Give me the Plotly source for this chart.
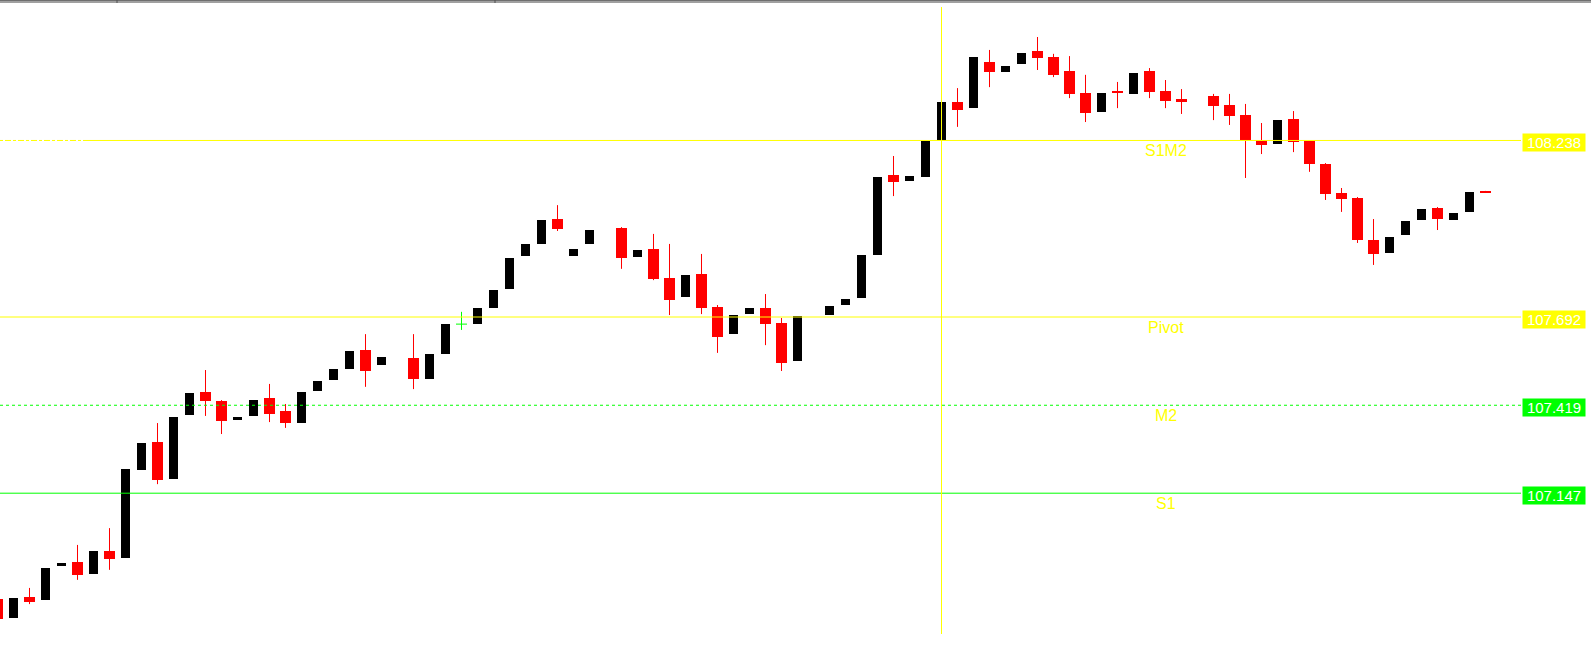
import plotly.graph_objects as go

# bar number = position in the list, None where the chart has no bar
opens = [106.820, 106.761, 106.826, 106.817, 106.922, 106.934, 106.897, 106.968, 106.947, 107.219,
         107.305, 107.191, 107.389, 107.460, 107.432, 107.373, 107.386, 107.442, 107.401, 107.364,
         107.463, 107.497, 107.531, 107.590, 107.544, None, 107.565, 107.500, 107.578, 107.670,
         107.670, 107.720, 107.779, 107.881, 107.918, 107.995, 107.881, 107.918, None, 107.967,
         107.878, 107.902, 107.813, 107.754, 107.825, 107.723, 107.639, 107.701, 107.720, 107.673,
         107.556, None, 107.698, 107.729, 107.751, 107.884, 108.131, 108.113, 108.125, 108.240,
         108.357, 108.338, 108.481, 108.450, 108.475, 108.515, 108.496, 108.453, 108.385, 108.326,
         108.391, 108.382, 108.453, 108.391, 108.366, None, 108.376, 108.348, 108.317, 108.240,
         108.227, 108.304, 108.236, 108.165, 108.076, 108.060, 107.930, 107.890, 107.946, 107.992,
         108.029, 107.992, 108.017, 108.079]
highs = [106.820, 106.823, 106.854, 106.916, 106.931, 106.987, 106.968, 107.039, 107.222, 107.302,
         107.364, 107.383, 107.457, 107.528, 107.435, 107.383, 107.435, 107.485, 107.423, 107.460,
         107.494, 107.531, 107.587, 107.639, 107.568, None, 107.639, 107.578, 107.670, 107.708,
         107.720, 107.776, 107.875, 107.918, 107.992, 108.038, 107.902, 107.961, None, 107.970,
         107.899, 107.949, 107.918, 107.822, 107.887, 107.729, 107.698, 107.720, 107.763, 107.689,
         107.695, None, 107.726, 107.748, 107.884, 108.125, 108.190, 108.128, 108.236, 108.357,
         108.400, 108.496, 108.518, 108.468, 108.509, 108.558, 108.506, 108.499, 108.441, 108.385,
         108.419, 108.447, 108.462, 108.425, 108.397, None, 108.382, 108.382, 108.351, 108.292,
         108.301, 108.329, 108.236, 108.168, 108.091, 108.063, 107.995, 107.939, 107.989, 108.026,
         108.032, 108.014, 108.079, 108.082]
lows = [106.758, 106.761, 106.804, 106.817, 106.922, 106.879, 106.897, 106.910, 106.947, 107.219,
        107.175, 107.191, 107.389, 107.386, 107.330, 107.373, 107.386, 107.367, 107.349, 107.364,
        107.463, 107.497, 107.531, 107.476, 107.544, None, 107.469, 107.500, 107.578, 107.652,
        107.670, 107.720, 107.779, 107.881, 107.918, 107.958, 107.881, 107.918, None, 107.841,
        107.878, 107.806, 107.698, 107.754, 107.701, 107.581, 107.639, 107.701, 107.605, 107.525,
        107.556, None, 107.698, 107.729, 107.751, 107.884, 108.066, 108.113, 108.125, 108.240,
        108.280, 108.338, 108.403, 108.450, 108.475, 108.456, 108.434, 108.369, 108.295, 108.326,
        108.338, 108.382, 108.369, 108.338, 108.320, None, 108.301, 108.286, 108.122, 108.196,
        108.227, 108.202, 108.141, 108.054, 108.017, 107.921, 107.853, 107.890, 107.946, 107.992,
        107.961, 107.992, 108.017, 108.076]
closes = [106.758, 106.823, 106.810, 106.916, 106.931, 106.894, 106.968, 106.943, 107.222, 107.302,
          107.188, 107.383, 107.457, 107.432, 107.370, 107.383, 107.435, 107.392, 107.364, 107.460,
          107.494, 107.531, 107.587, 107.525, 107.568, None, 107.500, 107.578, 107.670, 107.670,
          107.720, 107.776, 107.875, 107.918, 107.992, 107.964, 107.902, 107.961, None, 107.875,
          107.899, 107.810, 107.745, 107.822, 107.720, 107.630, 107.698, 107.720, 107.670, 107.550,
          107.695, None, 107.726, 107.748, 107.884, 108.125, 108.110, 108.128, 108.236, 108.357,
          108.332, 108.496, 108.450, 108.468, 108.509, 108.493, 108.441, 108.382, 108.323, 108.385,
          108.385, 108.447, 108.388, 108.360, 108.360, None, 108.345, 108.314, 108.240, 108.224,
          108.301, 108.233, 108.165, 108.072, 108.057, 107.930, 107.887, 107.939, 107.989, 108.026,
          107.995, 108.014, 108.079, 108.076]

level_values = [108.238, 107.692, 107.419, 107.147]
level_names = ["S1M2", "Pivot", "M2", "S1"]
level_colors = ["#FFFF00", "#FFFF00", "#00FF00", "#00FF00"]
level_dash = ["solid", "solid", "3px,3px", "solid"]
label_bar = 73      # bar under the level names
marker_bar = 59     # vertical line

BULL = "#000000"
BEAR = "#FF0000"
DOJI = "#00FF00"
SLOT = 16  # px per bar

bars = [i for i, o in enumerate(opens) if o is not None]
up = [i for i in bars if closes[i] > opens[i]]
down = [i for i in bars if closes[i] < opens[i]]
flat = [i for i in bars if closes[i] == opens[i]]

fig = go.Figure()

wx, wy = [], []
for i in down:
    wx += [i, i, None]
    wy += [lows[i], highs[i], None]
fig.add_trace(go.Scatter(x=wx, y=wy, mode="lines", line=dict(color=BEAR, width=1),
                         hoverinfo="skip", showlegend=False))

fig.add_trace(go.Bar(
    x=up, base=[opens[i] for i in up], y=[closes[i] - opens[i] for i in up],
    width=9 / SLOT, marker=dict(color=BULL, line=dict(width=0)), showlegend=False,
))
fig.add_trace(go.Bar(
    x=down, base=[closes[i] for i in down], y=[opens[i] - closes[i] for i in down],
    width=11 / SLOT, marker=dict(color=BEAR, line=dict(width=0)), showlegend=False,
))

dx, dy = [], []
for i in flat:
    dx += [i, i, None, i - 5.5 / SLOT, i + 5.5 / SLOT, None]
    dy += [lows[i], highs[i], None, opens[i], opens[i], None]
fig.add_trace(go.Scatter(x=dx, y=dy, mode="lines", line=dict(color=DOJI, width=1),
                         hoverinfo="skip", showlegend=False))

W, H = 1591, 648
line_end = 1521 / W
shapes = []
for k, (v, c, d) in enumerate(zip(level_values, level_colors, level_dash)):
    start = 88 / W if k == 0 else 0
    shapes.append(dict(type="line", xref="paper", yref="y", x0=start, x1=line_end, y0=v, y1=v,
                       line=dict(color=c, width=1, dash=d), layer="above"))
# dash-dot stub left of the top line
shapes.append(dict(type="line", xref="paper", yref="y", x0=0, x1=88 / W,
                   y0=level_values[0], y1=level_values[0],
                   line=dict(color="#FFFF00", width=1, dash="3px,2px,6px,2px"), layer="above"))
shapes.append(dict(type="line", xref="x", yref="paper", x0=marker_bar, x1=marker_bar,
                   y0=14 / H, y1=1 - 7 / H, line=dict(color="#FFFF00", width=1), layer="above"))
# window frame at top
shapes.append(dict(type="rect", xref="paper", yref="paper", x0=0, x1=1, y0=1 - 3 / H, y1=1,
                   fillcolor="#A0A0A0", line=dict(width=0), layer="above"))
shapes.append(dict(type="line", xref="paper", yref="paper", x0=0, x1=1, y0=1 - 0.5 / H,
                   y1=1 - 0.5 / H, line=dict(color="#6E6E6E", width=1), layer="above"))
for px in [117, 495]:
    shapes.append(dict(type="line", xref="paper", yref="paper", x0=px / W, x1=px / W,
                       y0=1 - 3 / H, y1=1, line=dict(color="#505050", width=1), layer="above"))

annotations = []
for v, n in zip(level_values, level_names):
    annotations.append(dict(x=label_bar, y=v, xref="x", yref="y", text=n, showarrow=False,
                            yshift=-10, font=dict(family="Liberation Sans, Arial", size=16,
                                                  color="#FFFF00")))
for v, c in zip(level_values, level_colors):
    annotations.append(dict(x=1554 / W, y=v, xref="paper", yref="y", xanchor="center",
                            text=f"{v:.3f}", showarrow=False, yshift=-2, bgcolor=c,
                            width=60, height=15, borderpad=1,
                            font=dict(family="Liberation Sans, Arial", size=15,
                                      color="#FFFFFF")))

p0, px_per = 107.692, 0.003093
fig.update_layout(
    width=W, height=H,
    margin=dict(l=0, r=0, t=0, b=0),
    paper_bgcolor="#FFFFFF", plot_bgcolor="#FFFFFF",
    barmode="overlay", bargap=0,
    showlegend=False,
    xaxis=dict(range=[2.5 / SLOT, (W + 2.5) / SLOT], visible=False, fixedrange=True),
    yaxis=dict(range=[p0 - (H - 317) * px_per, p0 + 317 * px_per], visible=False, fixedrange=True),
    shapes=shapes,
    annotations=annotations,
)

fig.write_html("out.html", config={"displayModeBar": False},
               post_script="document.body.style.margin='0';")
